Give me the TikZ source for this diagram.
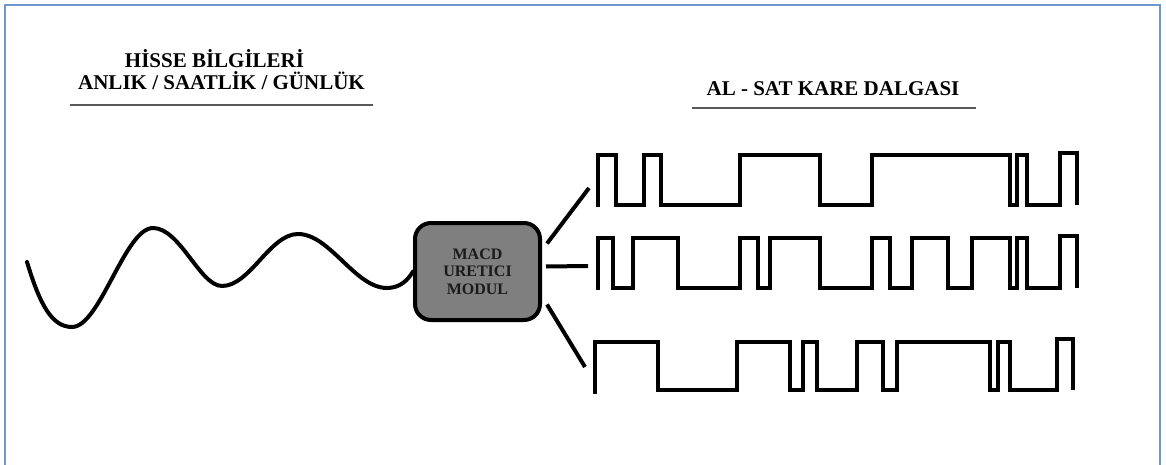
\documentclass[tikz,border=0pt]{standalone}
\usepackage{fontspec}
\setmainfont{Liberation Serif}
\usetikzlibrary{calc}
\definecolor{Frame}{HTML}{7096CF}
\definecolor{Rule}{HTML}{595959}
\definecolor{BoxGray}{HTML}{7F7F7F}
\definecolor{TextDark}{HTML}{1A1A1A}

\begin{document}
\begin{tikzpicture}[
  x=1pt,y=-1pt,
  baslik/.style={font=\fontsize{21}{23}\selectfont\bfseries,anchor=base,inner sep=0pt},
  ruleline/.style={draw=Rule,line width=1.6pt},
  module/.style={rounded corners=16pt,draw=black,fill=BoxGray,line width=4pt,minimum width=125pt,minimum height=97pt,align=center,font=\fontsize{16}{17.5}\selectfont\bfseries,text=TextDark},
  link/.style={line width=4pt,draw=black},
  kare/.style={line width=4.5pt,draw=black},
  signal/.style={line width=4pt,draw=black,line cap=round},
  frame/.style={draw=Frame,line width=1.5pt}
]
\useasboundingbox (0,0) rectangle (1166,465);
\draw[frame] (5,470) -- (5,5) -- (1160,5) -- (1160,470);

% basliklar
\node[baslik] (hisse) at (214.5,68) {HİSSE BİLGİLERİ};
\node[baslik] (periyot) at (221.5,90) {ANLIK / SAATLİK / GÜNLÜK};
\node[baslik] (kare) at (833,96) {AL - SAT KARE DALGASI};
\draw[ruleline] (70,105) -- (373,105);
\draw[ruleline] (692,108) -- (976,108);

% modul
\node[module] (macd) at (477.5,271.5) {MACD\\URETICI\\MODUL};

% hisse sinyali
\draw[signal] (27,262) .. controls (40,305) and (52,327) .. (72,327)
  .. controls (100,327) and (125,228) .. (153,228)
  .. controls (180,228) and (200,286) .. (222,286)
  .. controls (250,286) and (270,234) .. (298,234)
  .. controls (330,234) and (355,288) .. (387,288)
  .. controls (400,288) and (408,280) .. (macd.west);

% cikis baglantilari
\coordinate (w1) at (589,188);
\coordinate (w2) at (588,266);
\coordinate (w3) at (585,367);
\draw[link] ([xshift=5,yshift=28]macd.east) -- (w1);
\draw[link] ([xshift=4,yshift=5]macd.east) -- (w2);
\draw[link] ([xshift=5,yshift=-33]macd.east) -- (w3);

% kare dalgalar
\draw[kare] (598,207) |- (616,155) |- (644,205) |- (661,155) |- (740,205) |- (820,155) |- (872,205) |- (1010,155) |- (1017,205) |- (1027,155) |- (1060,205) |- (1077,153) -- (1077,205);
\draw[kare] (598,290) |- (613,238) |- (633,288) |- (678,238) |- (740,288) |- (758,238) |- (770,288) |- (820,238) |- (872,288) |- (890,238) |- (912,288) |- (948,238) |- (972,288) |- (1010,238) |- (1017,288) |- (1027,238) |- (1060,288) |- (1077,236) -- (1077,288);
\draw[kare] (595,394) |- (658,342) |- (737,390) |- (790,342) |- (803,390) |- (817,342) |- (857,390) |- (883,342) |- (897,390) |- (990,342) |- (998,390) |- (1010,342) |- (1057,390) |- (1073,339) -- (1073,390);
\end{tikzpicture}
\end{document}
